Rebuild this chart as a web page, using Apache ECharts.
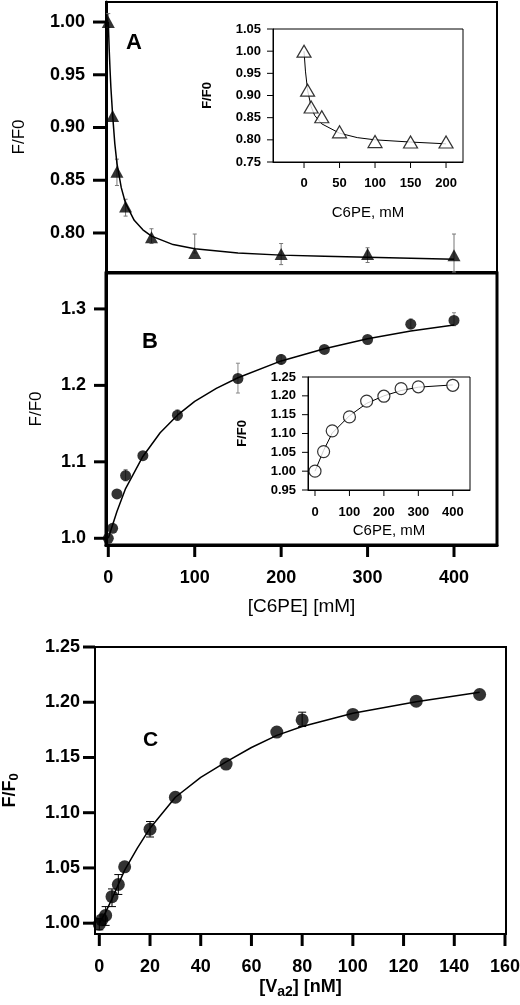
<!DOCTYPE html>
<html><head><meta charset="utf-8">
<script src="https://cdn.jsdelivr.net/npm/echarts@6/dist/echarts.min.js"></script>
<style>html,body{margin:0;padding:0;background:#fff}#c{width:520px;height:1005px}</style>
</head><body><div id="c"></div>
<script>
// ---- Panel A (main) ----
var ptsA = [[0,1.0],[5,0.911],[10,0.858],[20,0.825],[50,0.796],[100,0.781],[200,0.780],[300,0.780],[400,0.779]];
var curveA = [[0,1.0],[1,0.975],[2,0.955],[3,0.938],[5,0.912],[7.5,0.885],[10,0.866],[15,0.843],[20,0.828],[30,0.812],[40,0.803],[50,0.797],[75,0.789],[100,0.785],[150,0.781],[200,0.779],[250,0.778],[300,0.777],[350,0.776],[400,0.775]];
var errA = [[0,0.995,1.008],[10,0.845,0.870],[20,0.816,0.832],[50,0.790,0.804],[100,0.781,0.799],[200,0.770,0.790],[300,0.772,0.786],[400,0.763,0.799]];
var yTicksA = [0.80,0.85,0.90,0.95,1.00];
// ---- Panel A (inset) ----
var insA = [[0,1.0],[5,0.912],[10,0.874],[25,0.852],[50,0.818],[100,0.796],[150,0.795],[200,0.795]];
var insCurveA = [[0,1.0],[2,0.955],[5,0.912],[10,0.875],[15,0.855],[25,0.836],[50,0.815],[75,0.805],[100,0.800],[150,0.795],[200,0.791]];
var insYTicksA = [0.75,0.80,0.85,0.90,0.95,1.00,1.05];
var insXTicksA = [0,50,100,150,200];
// ---- Panel B (main) ----
var ptsB = [[0,1.0],[5,1.013],[10,1.058],[20,1.082],[40,1.108],[80,1.161],[150,1.209],[200,1.234],[250,1.247],[300,1.260],[350,1.280],[400,1.285]];
var curveB = [[0,1.0],[10,1.035],[20,1.065],[40,1.107],[60,1.138],[80,1.161],[100,1.179],[125,1.196],[150,1.210],[200,1.232],[250,1.248],[300,1.261],[350,1.271],[400,1.279]];
var errB = [[20,1.075,1.090],[80,1.154,1.168],[150,1.190,1.229],[200,1.228,1.240],[350,1.275,1.287],[400,1.278,1.295]];
var yTicksB = [1.0,1.1,1.2,1.3];
var xTicksB = [0,100,200,300,400];
// ---- Panel B (inset) ----
var insB = [[0,1.0],[25,1.052],[50,1.107],[100,1.144],[150,1.186],[200,1.199],[250,1.219],[300,1.224],[400,1.228]];
var insCurveB = [[0,1.0],[25,1.055],[50,1.101],[100,1.147],[150,1.180],[200,1.200],[250,1.214],[300,1.223],[400,1.229]];
var insYTicksB = [0.95,1.00,1.05,1.10,1.15,1.20,1.25];
var insXTicksB = [0,100,200,300,400];
// ---- Panel C ----
var ptsC = [[0,0.999],[1,1.003],[2.5,1.007],[5,1.024],[7.5,1.035],[10,1.051],[20,1.085],[30,1.114],[50,1.144],[70,1.173],[80,1.184],[100,1.189],[125,1.201],[150,1.207]];
var curveC = [[0,1.0],[2.5,1.010],[5,1.022],[7.5,1.035],[10,1.048],[15,1.068],[20,1.086],[30,1.114],[40,1.132],[50,1.146],[60,1.159],[70,1.170],[80,1.178],[100,1.190],[125,1.2005],[150,1.209]];
var errC = [[0,0.994,1.004],[2.5,0.998,1.015],[5,1.015,1.031],[7.5,1.026,1.044],[20,1.078,1.092],[80,1.178,1.191]];
var yTicksC = [1.00,1.05,1.10,1.15,1.20,1.25];
var xTicksC = [0,20,40,60,80,100,120,140,160];

// axis extents (value space)
var xRangeA = [-2.66, 449.75], yRangeA = [0.763, 1.019];
var xRangeIA = [-43.7, 223.9], yRangeIA = [0.75, 1.05];
var xRangeB = [-2.66, 449.75], yRangeB = [0.9912, 1.347];
var xRangeIB = [-20.3, 450], yRangeIB = [0.95, 1.25];
var xRangeC = [-1.7, 160.4], yRangeC = [0.9902, 1.25];

var FONT = 'Liberation Sans, Arial, sans-serif';
var chart = echarts.init(document.getElementById('c'), null, {renderer:'canvas'});

function errSeries(data, xi, yi, color, cap){
  return {
    type:'custom', xAxisIndex:xi, yAxisIndex:yi, z:1, silent:true,
    data:data,
    renderItem:function(params, api){
      var lo = api.coord([api.value(0), api.value(1)]);
      var hi = api.coord([api.value(0), api.value(2)]);
      var st = {stroke:color, lineWidth:1};
      return {type:'group', children:[
        {type:'line', shape:{x1:lo[0],y1:lo[1],x2:hi[0],y2:hi[1]}, style:st},
        {type:'line', shape:{x1:lo[0]-cap,y1:lo[1],x2:lo[0]+cap,y2:lo[1]}, style:st},
        {type:'line', shape:{x1:hi[0]-cap,y1:hi[1],x2:hi[0]+cap,y2:hi[1]}, style:st}
      ]};
    }
  };
}

// Labels that carry their own outward tick mark (rich-text box) next to the axis line
function yLabel(ticks, digits, fs, gap, len, w){
  return {show:true, customValues:ticks, margin:0, color:'#000',
    formatter:function(v){ return '{v|' + v.toFixed(digits) + '}{g|}{t|}'; },
    rich:{
      v:{fontFamily:FONT, fontWeight:'bold', fontSize:fs, lineHeight:fs, color:'#000', verticalAlign:'middle'},
      g:{width:gap, height:w, lineHeight:fs},
      t:{width:len, height:w, backgroundColor:'#000', verticalAlign:'middle'}
    }};
}
function xLabel(ticks, fs, gap, len, w){
  return {show:true, customValues:ticks, margin:0, color:'#000',
    formatter:function(v){ return '{t|}\n{s|}\n{v|' + v + '}'; },
    rich:{
      t:{width:w, height:len, lineHeight:len, backgroundColor:'#000', align:'center'},
      s:{height:gap, lineHeight:gap},
      v:{fontFamily:FONT, fontWeight:'bold', fontSize:fs, lineHeight:fs, color:'#000', align:'center'}
    }};
}

function mainY(gi, r, ticks, digits, name, gap, lw, tlen){
  return {
    type:'value', gridIndex:gi, min:r[0], max:r[1], position:'left',
    splitLine:{show:false},
    axisLine:{show:true, onZero:false, lineStyle:{color:'#000', width:lw}},
    axisTick:{show:false},
    axisLabel:yLabel(ticks, digits, 18, 8, tlen, 3),
    name:name, nameLocation:'middle', nameGap:gap, nameRotate:90, nameMoveOverlap:false,
    nameTextStyle:{color:'#000', fontFamily:FONT, fontSize:17}
  };
}
function insetAxisY(gi, r, ticks, name, gap){
  return {
    type:'value', gridIndex:gi, min:r[0], max:r[1],
    splitLine:{show:false},
    axisLine:{show:true, onZero:false, lineStyle:{color:'#000', width:1}},
    axisTick:{show:false},
    axisLabel:yLabel(ticks, 2, 13, 6, 6, 1),
    name:name, nameLocation:'middle', nameGap:gap, nameRotate:90, nameMoveOverlap:false,
    nameTextStyle:{color:'#000', fontFamily:FONT, fontWeight:'bold', fontSize:13}
  };
}
function insetAxisX(gi, r, ticks, name, gap, sgap){
  return {
    type:'value', gridIndex:gi, min:r[0], max:r[1],
    splitLine:{show:false},
    axisLine:{show:true, onZero:false, lineStyle:{color:'#000', width:1}},
    axisTick:{show:false},
    axisLabel:xLabel(ticks, 13, sgap, 6, 1),
    name:name, nameLocation:'middle', nameGap:gap, nameMoveOverlap:false,
    nameTextStyle:{color:'#000', fontFamily:FONT, fontSize:15}
  };
}
function grid(l, t, w, h, bw){
  return {left:l, top:t, width:w, height:h, show:true, borderColor:'#000', borderWidth:bw,
          containLabel:false, outerBoundsMode:'none'};
}

var option = {
  backgroundColor:'#fff',
  animation:false,
  grid:[
    grid(106, 2, 391, 270, 2),
    grid(273, 29, 190, 133, 1),
    grid(106, 273, 391, 272, 3),
    grid(308, 377, 162, 113, 1),
    grid(95, 647, 411, 287, 2)
  ],
  xAxis:[
    {type:'value', gridIndex:0, min:xRangeA[0], max:xRangeA[1], show:false, axisLine:{onZero:false}},
    insetAxisX(1, xRangeIA, insXTicksA, 'C6PE, mM', 43, 9),
    {type:'value', gridIndex:2, min:xRangeB[0], max:xRangeB[1], splitLine:{show:false},
     axisLine:{show:true, onZero:false, lineStyle:{color:'#000', width:3}},
     axisTick:{show:false},
     axisLabel:xLabel(xTicksB, 18, 12, 12, 3),
     name:'[C6PE] [mM]', nameLocation:'middle', nameGap:52, nameMoveOverlap:false,
     nameTextStyle:{color:'#000', fontFamily:FONT, fontSize:19}},
    insetAxisX(3, xRangeIB, insXTicksB, 'C6PE, mM', 33, 10),
    {type:'value', gridIndex:4, min:xRangeC[0], max:xRangeC[1], splitLine:{show:false},
     axisLine:{show:true, onZero:false, lineStyle:{color:'#000', width:2}},
     axisTick:{show:false},
     axisLabel:xLabel(xTicksC, 18, 12, 12, 3),
     name:'{n|[V}{s|a2}{n|] [nM]}', nameLocation:'middle', nameGap:41, nameMoveOverlap:false,
     nameTextStyle:{color:'#000', fontFamily:FONT, fontWeight:'bold', fontSize:18,
       rich:{n:{fontFamily:FONT, fontWeight:'bold', fontSize:18, color:'#000'},
             s:{fontFamily:FONT, fontWeight:'bold', fontSize:14, color:'#000', padding:[10,0,0,0]}}}}
  ],
  yAxis:[
    mainY(0, yRangeA, yTicksA, 2, 'F/F0', 78, 3, 13),
    insetAxisY(1, yRangeIA, insYTicksA, 'F/F0', 59),
    mainY(2, yRangeB, yTicksB, 1, 'F/F0', 61, 3, 12),
    insetAxisY(3, yRangeIB, insYTicksB, 'F/F0', 59),
    (function(){ var a = mainY(4, yRangeC, yTicksC, 2, '{n|F/F}{s|0}', 74, 2, 12);
      a.axisLabel = yLabel(yTicksC, 2, 18, 3, 12, 3);
      a.nameTextStyle = {color:'#000', fontFamily:FONT, fontWeight:'bold', fontSize:18,
        rich:{n:{fontFamily:FONT, fontWeight:'bold', fontSize:18, color:'#000'},
              s:{fontFamily:FONT, fontWeight:'bold', fontSize:13, color:'#000', padding:[8,0,0,0]}}};
      return a; })()
  ],
  graphic:[
    {type:'text', left:126, top:32, style:{text:'A', font:'bold 22px '+FONT, fill:'#000'}},
    {type:'text', left:142, top:331, style:{text:'B', font:'bold 22px '+FONT, fill:'#000'}},
    {type:'text', left:143, top:730, style:{text:'C', font:'bold 21px '+FONT, fill:'#000'}}
  ],
  series:[
    errSeries(errA, 0, 0, '#777', 2),
    {type:'line', xAxisIndex:0, yAxisIndex:0, data:curveA, smooth:false, showSymbol:false, lineStyle:{color:'#000', width:1.5}, z:2},
    {type:'scatter', xAxisIndex:0, yAxisIndex:0, data:ptsA, symbol:'triangle', symbolSize:[13,12], itemStyle:{color:'#000'}, z:3},

    {type:'line', xAxisIndex:1, yAxisIndex:1, data:insCurveA, smooth:false, showSymbol:false, lineStyle:{color:'#000', width:1}, z:2},
    {type:'scatter', xAxisIndex:1, yAxisIndex:1, data:insA, symbol:'triangle', symbolSize:[14,12], itemStyle:{color:'#fff', borderColor:'#000', borderWidth:1.2}, z:3},

    errSeries(errB, 2, 2, '#888', 2),
    {type:'line', xAxisIndex:2, yAxisIndex:2, data:curveB, smooth:false, showSymbol:false, lineStyle:{color:'#000', width:1.5}, z:2},
    {type:'scatter', xAxisIndex:2, yAxisIndex:2, data:ptsB, symbol:'circle', symbolSize:11, itemStyle:{color:'#000'}, z:3},

    {type:'line', xAxisIndex:3, yAxisIndex:3, data:insCurveB, smooth:false, showSymbol:false, lineStyle:{color:'#000', width:1}, z:2},
    {type:'scatter', xAxisIndex:3, yAxisIndex:3, data:insB, symbol:'circle', symbolSize:12, itemStyle:{color:'#fff', borderColor:'#000', borderWidth:1.2}, z:3},

    errSeries(errC, 4, 4, '#000', 4),
    {type:'line', xAxisIndex:4, yAxisIndex:4, data:curveC, smooth:false, showSymbol:false, lineStyle:{color:'#000', width:1.5}, z:2},
    {type:'scatter', xAxisIndex:4, yAxisIndex:4, data:ptsC, symbol:'circle', symbolSize:13, itemStyle:{color:'#000'}, z:3}
  ]
};
chart.setOption(option);
</script>
</body></html>
